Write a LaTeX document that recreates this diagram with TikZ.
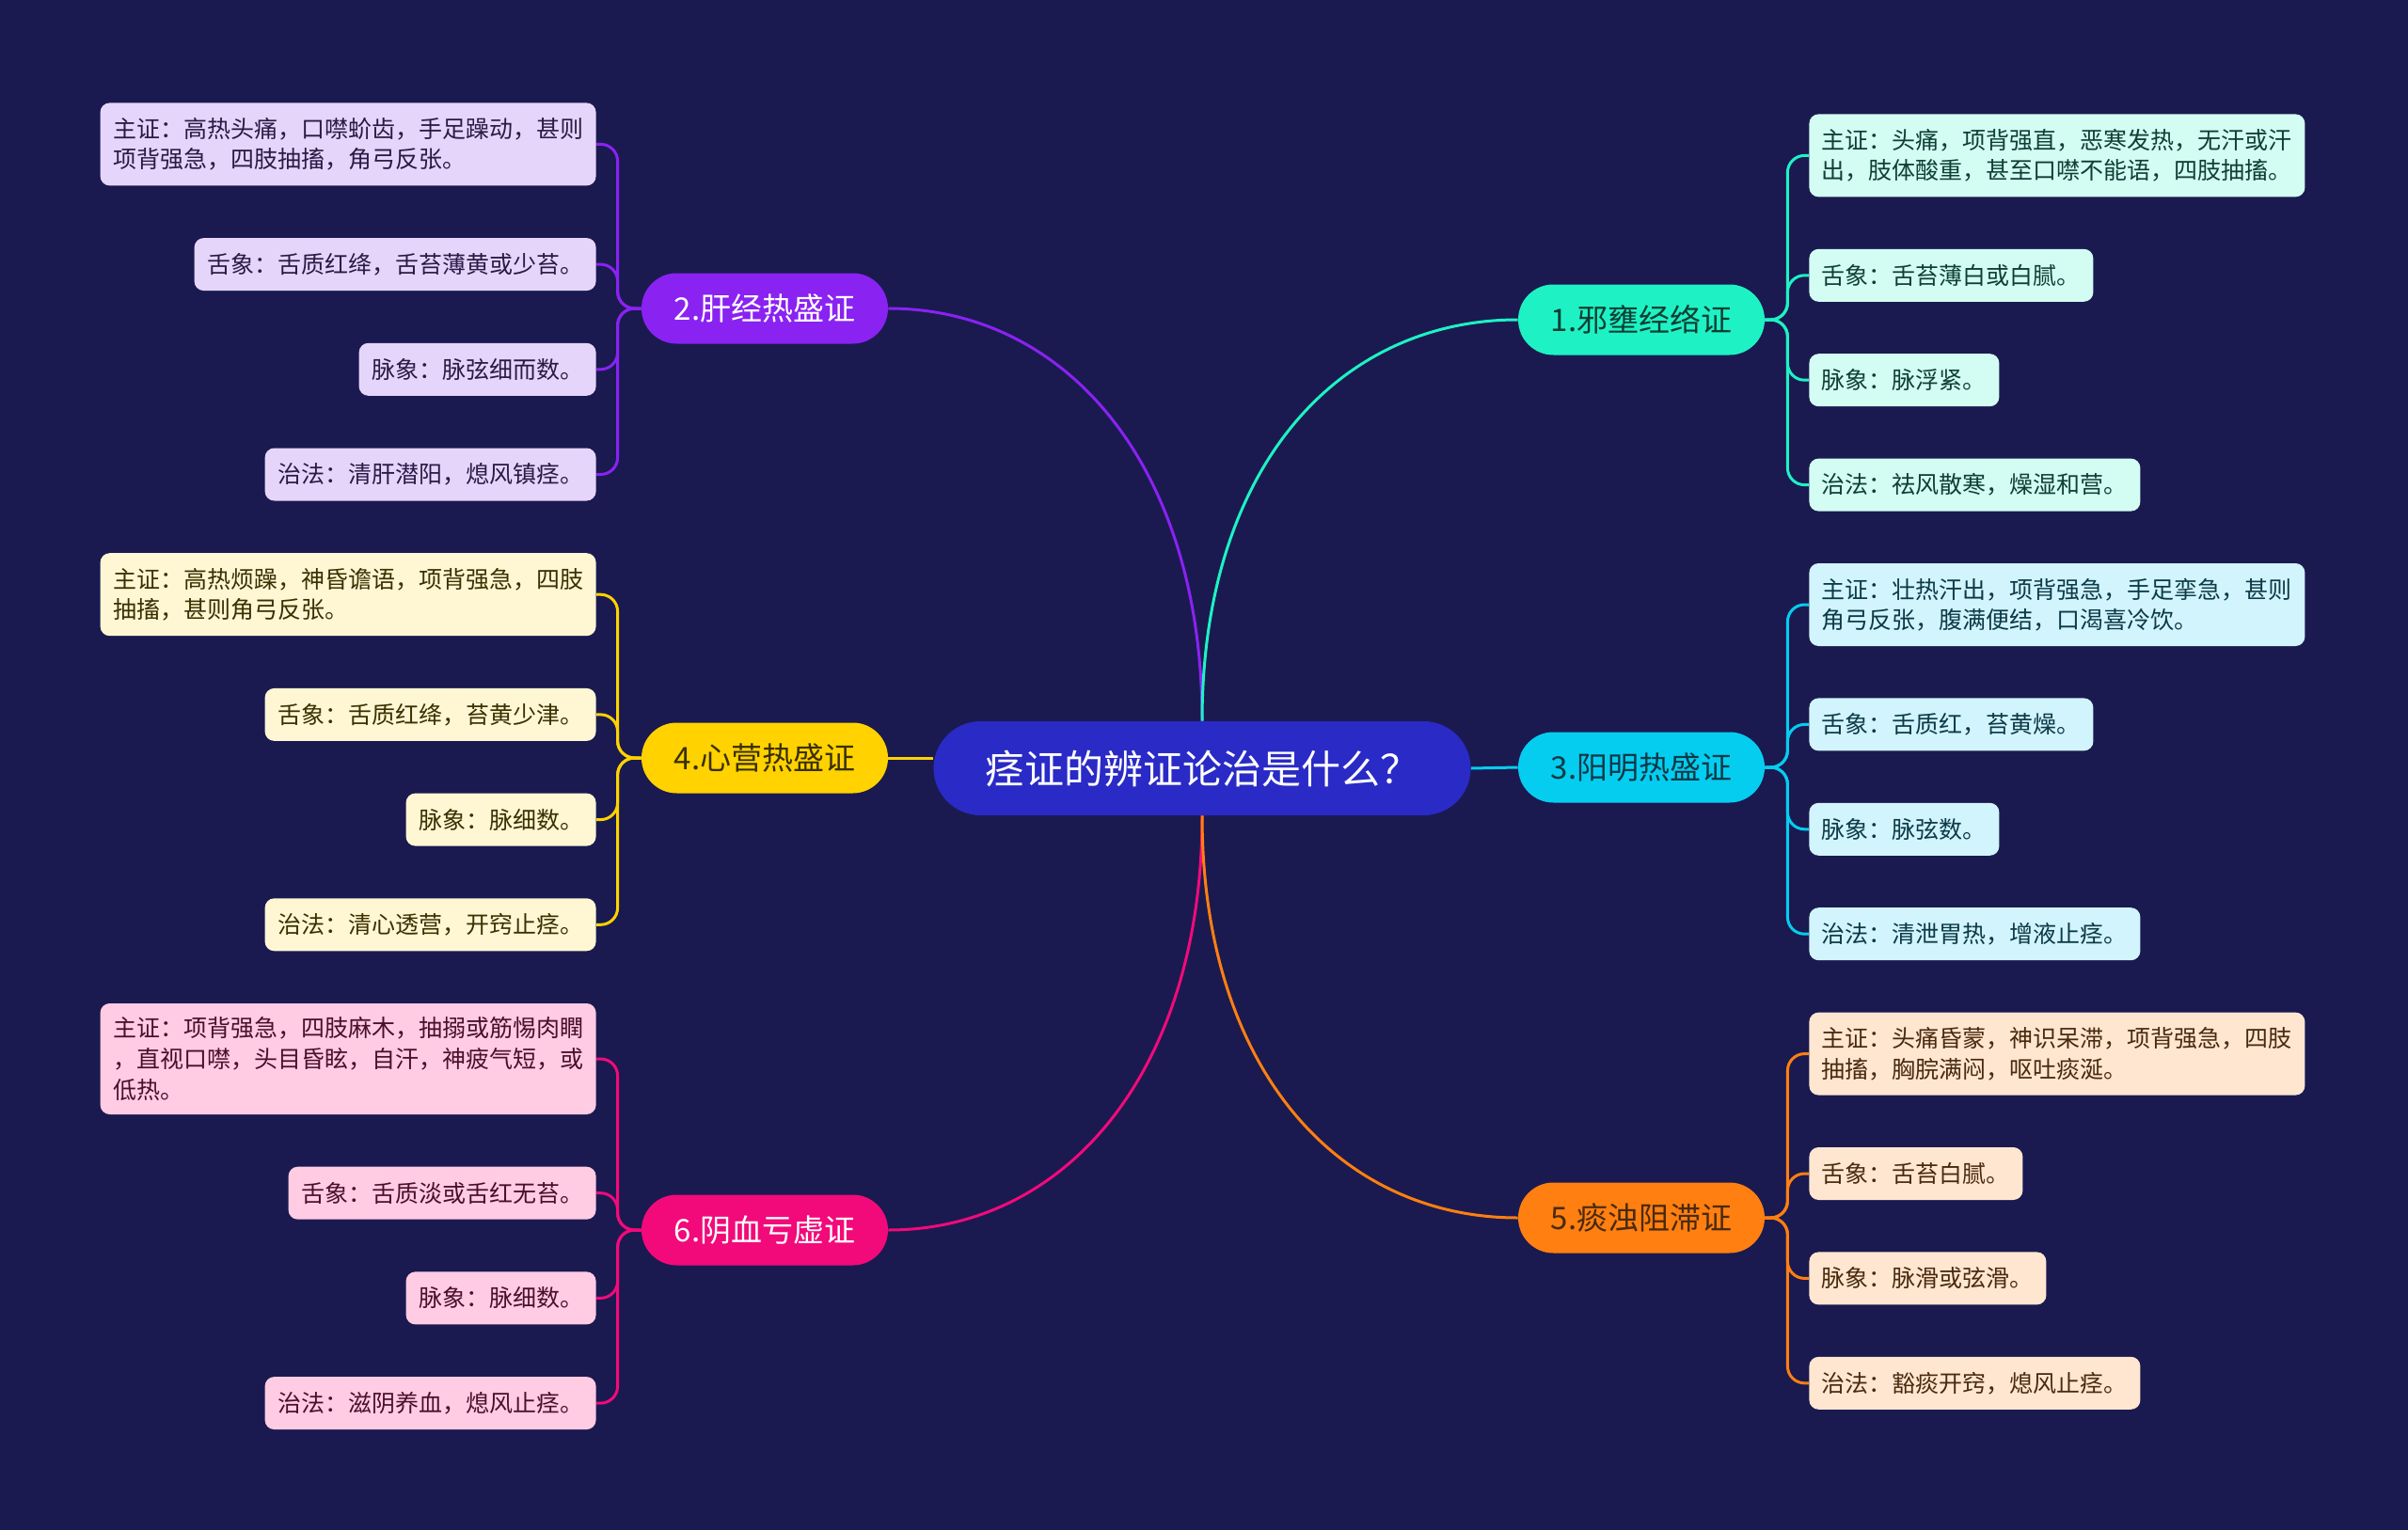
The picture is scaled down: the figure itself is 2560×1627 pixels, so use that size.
\documentclass[tikz,border=0pt]{standalone}
\usepackage{fontspec}
\usepackage{xcolor}
\usetikzlibrary{positioning}
\newfontfamily\cjk{Noto Sans CJK SC}

\definecolor{bgnavy}{HTML}{1A1A50}
\definecolor{rootblue}{HTML}{2A2AC6}
\definecolor{cpurple}{HTML}{8A22F2}
\definecolor{cyellow}{HTML}{FFD200}
\definecolor{cpink}{HTML}{F20A7A}
\definecolor{cteal}{HTML}{1EF2C4}
\definecolor{ccyan}{HTML}{05CDF0}
\definecolor{corange}{HTML}{FF7F11}
\definecolor{fpurple}{HTML}{E6D5FB}
\definecolor{fyellow}{HTML}{FFF7D4}
\definecolor{fpink}{HTML}{FFCCE3}
\definecolor{fteal}{HTML}{D3FCF3}
\definecolor{fcyan}{HTML}{D2F4FC}
\definecolor{forange}{HTML}{FFE6D1}
\definecolor{tpurple}{HTML}{2A1A44}
\definecolor{tyellow}{HTML}{3A3000}
\definecolor{tpink}{HTML}{4A0F2B}
\definecolor{tteal}{HTML}{0E3F35}
\definecolor{tcyan}{HTML}{0B3A48}
\definecolor{torange}{HTML}{4A2A0E}

\tikzset{
  root/.style={fill=rootblue, text=white, rounded corners=25pt,
    minimum width=285.5pt, minimum height=50pt, inner sep=0pt,
    font=\cjk\fontsize{21pt}{24pt}\selectfont},
  topic/.style={rounded corners=18.7pt, minimum width=131pt,
    minimum height=37.5pt, inner sep=0pt,
    font=\cjk\fontsize{16.5pt}{19pt}\selectfont},
  leaf/.style={rounded corners=5pt, inner xsep=6.75pt, inner ysep=4pt,
    align=left, minimum height=28pt,
    font=\cjk\fontsize{12.5pt}{16.3pt}\selectfont},
  link/.style={line width=1.5pt},
  twig/.style={line width=1.5pt, rounded corners=9pt},
}

\begin{document}
\begin{tikzpicture}[x=0.5pt, y=-0.5pt]
  \fill[bgnavy] (0,0) rectangle (2560,1627);
  \useasboundingbox (0,0) rectangle (2560,1627);

  \node[root] (root) at (1278,817) {痉证的辨证论治是什么？};

  \node[topic, fill=cteal, text=tteal] (b1) at (1745,340) {1.邪壅经络证};
  \node[topic, fill=cpurple, text=white] (b2) at (813,328) {2.肝经热盛证};
  \node[topic, fill=ccyan, text=tcyan] (b3) at (1745,816) {3.阳明热盛证};
  \node[topic, fill=cyellow, text=tyellow] (b4) at (813,806) {4.心营热盛证};
  \node[topic, fill=corange, text=torange] (b5) at (1745,1295) {5.痰浊阻滞证};
  \node[topic, fill=cpink, text=white] (b6) at (813,1308) {6.阴血亏虚证};

  \node[leaf, fill=fpurple, text=tpurple, anchor=north east, minimum height=44pt] (l2a) at (634,109)
    {主证：高热头痛，口噤蚧齿，手足躁动，甚则\\项背强急，四肢抽搐，角弓反张。};
  \node[leaf, fill=fpurple, text=tpurple, below left=27.45pt and 0pt of l2a.south east] (l2b) {舌象：舌质红绛，舌苔薄黄或少苔。};
  \node[leaf, fill=fpurple, text=tpurple, below left=27.45pt and 0pt of l2b.south east] (l2c) {脉象：脉弦细而数。};
  \node[leaf, fill=fpurple, text=tpurple, below left=27.45pt and 0pt of l2c.south east] (l2d) {治法：清肝潜阳，熄风镇痉。};
  \node[leaf, fill=fyellow, text=tyellow, minimum height=44pt, below left=27.45pt and 0pt of l2d.south east] (l4a)
    {主证：高热烦躁，神昏谵语，项背强急，四肢\\抽搐，甚则角弓反张。};
  \node[leaf, fill=fyellow, text=tyellow, below left=27.45pt and 0pt of l4a.south east] (l4b) {舌象：舌质红绛，苔黄少津。};
  \node[leaf, fill=fyellow, text=tyellow, below left=27.45pt and 0pt of l4b.south east] (l4c) {脉象：脉细数。};
  \node[leaf, fill=fyellow, text=tyellow, below left=27.45pt and 0pt of l4c.south east] (l4d) {治法：清心透营，开窍止痉。};
  \node[leaf, fill=fpink, text=tpink, minimum height=59pt, below left=27.45pt and 0pt of l4d.south east] (l6a)
    {主证：项背强急，四肢麻木，抽搦或筋惕肉瞤\\，直视口噤，头目昏眩，自汗，神疲气短，或\\低热。};
  \node[leaf, fill=fpink, text=tpink, below left=27.45pt and 0pt of l6a.south east] (l6b) {舌象：舌质淡或舌红无苔。};
  \node[leaf, fill=fpink, text=tpink, below left=27.45pt and 0pt of l6b.south east] (l6c) {脉象：脉细数。};
  \node[leaf, fill=fpink, text=tpink, below left=27.45pt and 0pt of l6c.south east] (l6d) {治法：滋阴养血，熄风止痉。};

  \node[leaf, fill=fteal, text=tteal, anchor=north west, minimum height=44pt] (l1a) at (1923,121)
    {主证：头痛，项背强直，恶寒发热，无汗或汗\\出，肢体酸重，甚至口噤不能语，四肢抽搐。};
  \node[leaf, fill=fteal, text=tteal, below right=27.3pt and 0pt of l1a.south west] (l1b) {舌象：舌苔薄白或白腻。};
  \node[leaf, fill=fteal, text=tteal, below right=27.3pt and 0pt of l1b.south west] (l1c) {脉象：脉浮紧。};
  \node[leaf, fill=fteal, text=tteal, below right=27.3pt and 0pt of l1c.south west] (l1d) {治法：祛风散寒，燥湿和营。};
  \node[leaf, fill=fcyan, text=tcyan, minimum height=44pt, below right=27.3pt and 0pt of l1d.south west] (l3a)
    {主证：壮热汗出，项背强急，手足挛急，甚则\\角弓反张，腹满便结，口渴喜冷饮。};
  \node[leaf, fill=fcyan, text=tcyan, below right=27.3pt and 0pt of l3a.south west] (l3b) {舌象：舌质红，苔黄燥。};
  \node[leaf, fill=fcyan, text=tcyan, below right=27.3pt and 0pt of l3b.south west] (l3c) {脉象：脉弦数。};
  \node[leaf, fill=fcyan, text=tcyan, below right=27.3pt and 0pt of l3c.south west] (l3d) {治法：清泄胃热，增液止痉。};
  \node[leaf, fill=forange, text=torange, minimum height=44pt, below right=27.3pt and 0pt of l3d.south west] (l5a)
    {主证：头痛昏蒙，神识呆滞，项背强急，四肢\\抽搐，胸脘满闷，呕吐痰涎。};
  \node[leaf, fill=forange, text=torange, below right=27.3pt and 0pt of l5a.south west] (l5b) {舌象：舌苔白腻。};
  \node[leaf, fill=forange, text=torange, below right=27.3pt and 0pt of l5b.south west] (l5c) {脉象：脉滑或弦滑。};
  \node[leaf, fill=forange, text=torange, below right=27.3pt and 0pt of l5c.south west] (l5d) {治法：豁痰开窍，熄风止痉。};

  \draw[link, cpurple] (root.north) .. controls +(0,-270) and +(190,0) .. (b2.east);
  \draw[link, cteal] (root.north) .. controls +(0,-270) and +(-190,0) .. (b1.west);
  \draw[link, cpink] (root.south) .. controls +(0,270) and +(190,0) .. (b6.east);
  \draw[link, corange] (root.south) .. controls +(0,270) and +(-190,0) .. (b5.west);
  \draw[link, cyellow] (b4.east) -- (b4.east -| root.west);
  \draw[link, ccyan] (root.east) -- (b3.west);

  \foreach \l in {l2a,l2b,l2c,l2d}
    \draw[twig, cpurple] (b2.west) -- ++(-25,0) |- (\l.east);
  \foreach \l in {l4a,l4b,l4c,l4d}
    \draw[twig, cyellow] (b4.west) -- ++(-25,0) |- (\l.east);
  \foreach \l in {l6a,l6b,l6c,l6d}
    \draw[twig, cpink] (b6.west) -- ++(-25,0) |- (\l.east);
  \foreach \l in {l1a,l1b,l1c,l1d}
    \draw[twig, cteal] (b1.east) -- ++(24,0) |- (\l.west);
  \foreach \l in {l3a,l3b,l3c,l3d}
    \draw[twig, ccyan] (b3.east) -- ++(24,0) |- (\l.west);
  \foreach \l in {l5a,l5b,l5c,l5d}
    \draw[twig, corange] (b5.east) -- ++(24,0) |- (\l.west);
\end{tikzpicture}
\end{document}
